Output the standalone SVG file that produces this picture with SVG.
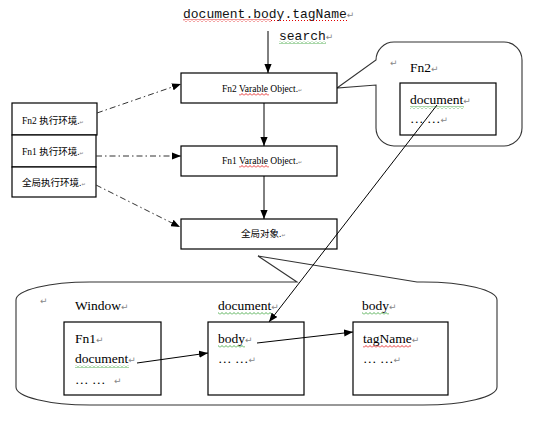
<svg xmlns="http://www.w3.org/2000/svg" width="537" height="437" viewBox="0 0 537 437">
<style>
.bg{fill:#ffffff}
.box{fill:#ffffff;stroke:#000000;stroke-width:1.2}
.bubble{fill:#ffffff;stroke:#333333;stroke-width:1.1}
.ln{fill:none;stroke:#000000;stroke-width:1}
.dd{fill:none;stroke:#333333;stroke-width:1;stroke-dasharray:6 3 1.5 3}
.t{font-family:"Liberation Serif","Noto Sans CJK SC",serif;font-size:13.5px;fill:#000000}
.s{font-family:"Liberation Serif","Noto Sans CJK SC",serif;font-size:9.5px;fill:#000000}
.m{font-family:"Liberation Mono",monospace;font-size:13px;fill:#111111}
.pm{font-family:"DejaVu Sans",sans-serif;font-size:9px;fill:#888888}
.pms{font-family:"DejaVu Sans",sans-serif;font-size:5px;fill:#888888}
</style>
<defs>
<marker id="arr" viewBox="0 0 10 8" refX="10" refY="4" markerWidth="9" markerHeight="7.5" markerUnits="userSpaceOnUse" orient="auto">
<path d="M0,0 L10,4 L0,8 Z" fill="#000000"/>
</marker>
<pattern id="wr" x="0" y="0" width="4" height="3" patternUnits="userSpaceOnUse">
<path d="M0,2.5 L2,0.5 L4,2.5" fill="none" stroke="#e00000" stroke-width="0.8"/>
</pattern>
<pattern id="wg" x="0" y="0" width="4" height="3" patternUnits="userSpaceOnUse">
<path d="M0,2.5 L2,0.5 L4,2.5" fill="none" stroke="#2a9a2a" stroke-width="0.8"/>
</pattern>
</defs>
<rect class="bg" x="0" y="0" width="537" height="437"/>

<g id="query">
<text class="m" x="183" y="18">document.body.tagName<tspan class="pm">↵</tspan></text>
<rect x="183" y="19" width="88" height="3" fill="url(#wr)"/>
<line x1="271" y1="20.5" x2="347" y2="20.5" stroke="#e00000" stroke-width="1" stroke-dasharray="1 2"/>
<text class="m" x="279" y="40">search<tspan class="pm">↵</tspan></text>
<rect x="279" y="41" width="47" height="3" fill="url(#wg)"/>
</g>

<g id="bubble-window">
<path class="bubble" d="M258,256 L417,282 L423,282 A74,18 0 0 1 497,300 L497,387 A74,18 0 0 1 423,405 L90,405 A74,18 0 0 1 16,387 L16,300 A74,18 0 0 1 90,282 L297,282 Z"/>
<text class="pm" x="40" y="304">↵</text>
<text class="t" x="75" y="310">Window<tspan class="pm">↵</tspan></text>
<text class="t" x="218" y="310">document<tspan class="pm">↵</tspan></text>
<rect x="218" y="312" width="54" height="3" fill="url(#wg)"/>
<text class="t" x="362" y="310">body<tspan class="pm">↵</tspan></text>
<rect x="362" y="312" width="27" height="3" fill="url(#wg)"/>
</g>

<g id="bubble-fn2">
<path class="bubble" d="M337,88 L376,60 A18,18 0 0 1 394,42 L504,42 A18,18 0 0 1 522,60 L522,128 A18,18 0 0 1 504,146 L394,146 A18,18 0 0 1 376,128 L376,85 Z"/>
<text class="pm" x="390" y="66">↵</text>
<text class="t" x="410" y="72">Fn2<tspan class="pm">↵</tspan></text>
</g>

<g id="fn2-scope">
<rect class="box" x="400" y="83" width="96" height="52"/>
<text class="t" x="410" y="104">document<tspan class="pm">↵</tspan></text>
<rect x="410" y="106" width="54" height="3" fill="url(#wg)"/>
<text class="t" x="410" y="123">… …<tspan class="pm">↵</tspan></text>
</g>

<g id="fn2-vo">
<rect class="box" x="181" y="73" width="156" height="30"/>
<text class="s" x="222" y="92">Fn2 Varable Object.<tspan class="pms">↵</tspan></text>
<rect x="239" y="93" width="30" height="3" fill="url(#wr)"/>
</g>
<g id="fn1-vo">
<rect class="box" x="181" y="146" width="156" height="30"/>
<text class="s" x="222" y="164">Fn1 Varable Object.<tspan class="pms">↵</tspan></text>
<rect x="239" y="165" width="30" height="3" fill="url(#wr)"/>
</g>
<g id="global-obj">
<rect class="box" x="181" y="219" width="156" height="30"/>
<text class="s" x="241" y="237">全局对象.<tspan class="pms">↵</tspan></text>
</g>

<g id="ctx-fn2">
<rect class="box" x="12" y="103" width="85" height="32"/>
<text class="s" x="22" y="124">Fn2 执行环境.<tspan class="pms">↵</tspan></text>
</g>
<g id="ctx-fn1">
<rect class="box" x="12" y="135" width="84" height="32"/>
<text class="s" x="22" y="155">Fn1 执行环境.<tspan class="pms">↵</tspan></text>
</g>
<g id="ctx-global">
<rect class="box" x="12" y="167" width="84" height="30"/>
<text class="s" x="22" y="186">全局执行环境.<tspan class="pms">↵</tspan></text>
</g>

<g id="window-box">
<rect class="box" x="64" y="322" width="97" height="73"/>
<text class="t" x="75" y="343">Fn1<tspan class="pm">↵</tspan></text>
<text class="t" x="75" y="363">document<tspan class="pm">↵</tspan></text>
<rect x="75" y="365" width="54" height="3" fill="url(#wg)"/>
<text class="t" x="75" y="384">… …</text>
<text class="pm" x="114" y="384">↵</text>
</g>
<g id="document-box">
<rect class="box" x="208" y="322" width="96" height="73"/>
<text class="t" x="218" y="343">body<tspan class="pm">↵</tspan></text>
<rect x="218" y="345" width="27" height="3" fill="url(#wg)"/>
<text class="t" x="218" y="363">… …<tspan class="pm">↵</tspan></text>
</g>
<g id="body-box">
<rect class="box" x="353" y="322" width="95" height="73"/>
<text class="t" x="363" y="343">tagName<tspan class="pm">↵</tspan></text>
<rect x="363" y="345" width="48" height="3" fill="url(#wr)"/>
<text class="t" x="363" y="363">… …<tspan class="pm">↵</tspan></text>
</g>

<g id="connectors">
<line class="ln" x1="268" y1="31" x2="268" y2="73" marker-end="url(#arr)"/>
<line class="ln" x1="264" y1="103" x2="264" y2="146" marker-end="url(#arr)"/>
<line class="ln" x1="264" y1="176" x2="264" y2="219" marker-end="url(#arr)"/>
<line class="dd" x1="97" y1="113" x2="181" y2="84" marker-end="url(#arr)"/>
<line class="dd" x1="96" y1="156" x2="181" y2="156" marker-end="url(#arr)"/>
<line class="dd" x1="96" y1="185" x2="180" y2="227" marker-end="url(#arr)"/>
<line class="ln" x1="137" y1="363" x2="208" y2="353" marker-end="url(#arr)"/>
<line class="ln" x1="257" y1="343" x2="353" y2="332" marker-end="url(#arr)"/>
<line class="ln" x1="437" y1="105" x2="269" y2="322" marker-end="url(#arr)"/>
</g>
</svg>
